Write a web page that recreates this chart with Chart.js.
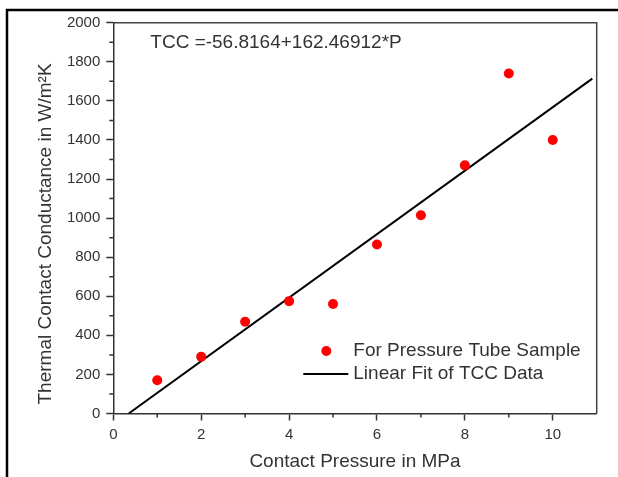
<!DOCTYPE html>
<html>
<head>
<meta charset="utf-8">
<script src="https://cdn.jsdelivr.net/npm/chart.js@4.4.1/dist/chart.umd.min.js"></script>
<style>
  html, body { margin: 0; padding: 0; background: #fff; }
  canvas { display: block; }
</style>
</head>
<body>
<canvas id="tccChart" width="618" height="477"></canvas>
<script>
const pressure = [1, 2, 3, 4, 5, 6, 7, 8, 9, 10];
const tcc = [170, 290, 470, 575, 560, 865, 1015, 1270, 1740, 1400];

// ends of the fitted line
const fitP = [0.35, 10.9];
const fitTCC = [0, 1714];

const xTicks = [0, 2, 4, 6, 8, 10];
const xMinor = [1, 3, 5, 7, 9];
const yTicks = [0, 200, 400, 600, 800, 1000, 1200, 1400, 1600, 1800, 2000];
const yMinor = [100, 300, 500, 700, 900, 1100, 1300, 1500, 1700, 1900];

const fitLabel = "TCC =-56.8164+162.46912*P";
const yTitle = "Thermal Contact Conductance in W/m\u00B2K";
const ink = "#333";
const FONT = "'Liberation Sans', Arial, sans-serif";

Chart.defaults.font.family = FONT;
Chart.defaults.color = ink;

function toPoints(xs, ys) {
  return xs.map((x, i) => ({ x, y: ys[i] }));
}

// outer frame, plot box, minor ticks, y title, fit text and legend
const decor = {
  id: "decor",
  beforeDraw(chart) {
    const ctx = chart.ctx;
    ctx.save();
    ctx.strokeStyle = "#000";
    ctx.lineWidth = 2.5;
    ctx.beginPath();
    ctx.moveTo(7, chart.height);
    ctx.lineTo(7, 10);
    ctx.lineTo(chart.width, 10);
    ctx.stroke();
    ctx.restore();
  },
  afterDraw(chart) {
    const { ctx, chartArea: a, scales } = chart;
    ctx.save();
    ctx.strokeStyle = "#444";
    ctx.lineWidth = 1.5;
    ctx.beginPath();
    ctx.moveTo(a.left, a.top);
    ctx.lineTo(a.right, a.top);
    ctx.lineTo(a.right, a.bottom);
    ctx.stroke();

    ctx.strokeStyle = ink;
    ctx.lineWidth = 1.5;
    ctx.beginPath();
    for (const v of xMinor) {
      const px = scales.x.getPixelForValue(v);
      ctx.moveTo(px, a.bottom);
      ctx.lineTo(px, a.bottom + 4);
    }
    for (const v of yMinor) {
      const py = scales.y.getPixelForValue(v);
      ctx.moveTo(a.left, py);
      ctx.lineTo(a.left - 4, py);
    }
    ctx.stroke();

    ctx.fillStyle = ink;
    ctx.font = "19px " + FONT;
    ctx.textBaseline = "middle";

    // y axis title
    ctx.save();
    ctx.translate(46, a.bottom - 9);
    ctx.rotate(-Math.PI / 2);
    ctx.textAlign = "left";
    ctx.fillText(yTitle, 0, 0);
    ctx.restore();

    ctx.textAlign = "left";
    ctx.fillText(fitLabel, a.left + 37, a.top + 20);

    // legend
    const ds = chart.data.datasets;
    const lx = a.left + 240;
    ctx.fillStyle = ds[0].backgroundColor;
    ctx.beginPath();
    ctx.arc(lx - 27, 351, 5, 0, Math.PI * 2);
    ctx.fill();
    ctx.fillStyle = ink;
    ctx.fillText(ds[0].label, lx, 351);

    ctx.strokeStyle = ds[1].borderColor;
    ctx.lineWidth = 2;
    ctx.beginPath();
    ctx.moveTo(lx - 50, 374);
    ctx.lineTo(lx - 5, 374);
    ctx.stroke();
    ctx.fillText(ds[1].label, lx, 374);
    ctx.restore();
  }
};

new Chart(document.getElementById("tccChart"), {
  type: "scatter",
  data: {
    datasets: [
      {
        label: "For Pressure Tube Sample",
        data: toPoints(pressure, tcc),
        backgroundColor: "#ff0000",
        borderWidth: 0,
        pointRadius: 5,
        order: 1
      },
      {
        type: "line",
        label: "Linear Fit of TCC Data",
        data: toPoints(fitP, fitTCC),
        borderColor: "#000",
        borderWidth: 2,
        pointRadius: 0,
        fill: false,
        order: 2
      }
    ]
  },
  options: {
    responsive: false,
    animation: false,
    layout: { padding: { top: 22.7, right: 21.3, left: 0, bottom: 0 } },
    plugins: { legend: { display: false }, tooltip: { enabled: false } },
    scales: {
      x: {
        type: "linear",
        min: 0,
        max: 11,
        afterBuildTicks: s => { s.ticks = xTicks.map(v => ({ value: v })); },
        afterFit: s => { s.height = 63.5; },
        border: { display: true, color: ink, width: 1.5 },
        grid: { drawOnChartArea: false, drawTicks: true, tickLength: 7, tickColor: ink, tickWidth: 1.5 },
        ticks: { font: { size: 15 }, color: ink, padding: 5, maxRotation: 0, callback: v => String(v) },
        title: {
          display: true,
          text: "Contact Pressure in MPa",
          font: { size: 19 },
          color: ink,
          padding: { top: 0, bottom: 3.5 }
        }
      },
      y: {
        min: 0,
        max: 2000,
        afterBuildTicks: s => { s.ticks = yTicks.map(v => ({ value: v })); },
        afterFit: s => { s.width = 113.3; },
        border: { display: true, color: ink, width: 1.5 },
        grid: { drawOnChartArea: false, drawTicks: true, tickLength: 7, tickColor: ink, tickWidth: 1.5 },
        ticks: { font: { size: 15 }, color: ink, padding: 6, callback: v => String(v) }
      }
    }
  },
  plugins: [decor]
});
</script>
</body>
</html>
